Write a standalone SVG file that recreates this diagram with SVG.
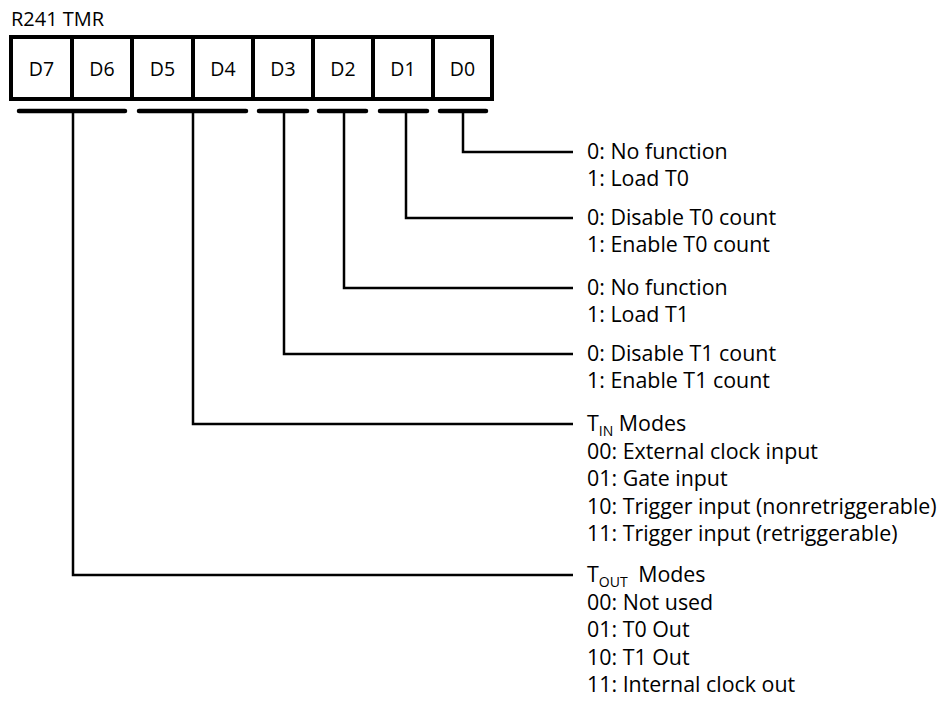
<svg xmlns="http://www.w3.org/2000/svg" width="942" height="702" viewBox="0 0 942 702">
<style>
text{font-family:"Open Sans","Noto Sans","Liberation Sans",sans-serif;fill:#000}
.cell{fill:#fff;stroke:#000;stroke-width:4}
.div{stroke:#000;stroke-width:4}
.lbl{font-size:19.5px;text-anchor:middle}
.desc{font-size:21.4px}
.sub{font-size:14px}
.bar{stroke:#000;stroke-width:4.5;stroke-linecap:round;fill:none}
.wire{stroke:#000;stroke-width:2.5;fill:none}
</style>
<rect width="942" height="702" fill="#fff"/>
<g id="title"><text x="11" y="26" style="font-size:20px">R241 TMR</text></g>
<g id="register">
<rect class="cell" x="11" y="37" width="481" height="62"/>
<g id="bit-D7"><text class="lbl" x="41.5" y="75.5">D7</text></g>
<g id="bit-D6"><line class="div" x1="72" y1="37" x2="72" y2="99"/><text class="lbl" x="102" y="75.5">D6</text></g>
<g id="bit-D5"><line class="div" x1="132" y1="37" x2="132" y2="99"/><text class="lbl" x="162.5" y="75.5">D5</text></g>
<g id="bit-D4"><line class="div" x1="193" y1="37" x2="193" y2="99"/><text class="lbl" x="223" y="75.5">D4</text></g>
<g id="bit-D3"><line class="div" x1="253" y1="37" x2="253" y2="99"/><text class="lbl" x="283" y="75.5">D3</text></g>
<g id="bit-D2"><line class="div" x1="313" y1="37" x2="313" y2="99"/><text class="lbl" x="343" y="75.5">D2</text></g>
<g id="bit-D1"><line class="div" x1="373" y1="37" x2="373" y2="99"/><text class="lbl" x="403" y="75.5">D1</text></g>
<g id="bit-D0"><line class="div" x1="433" y1="37" x2="433" y2="99"/><text class="lbl" x="462.5" y="75.5">D0</text></g>
</g>
<g id="connectors">
<line class="bar" x1="19" y1="111" x2="125" y2="111"/>
<line class="bar" x1="139" y1="111" x2="246" y2="111"/>
<line class="bar" x1="259" y1="111" x2="307" y2="111"/>
<line class="bar" x1="319" y1="111" x2="366" y2="111"/>
<line class="bar" x1="380" y1="111" x2="427" y2="111"/>
<line class="bar" x1="440" y1="111" x2="486" y2="111"/>
<polyline class="wire" points="463,111 463,152 573,152"/>
<polyline class="wire" points="406,111 406,218 573,218"/>
<polyline class="wire" points="344,111 344,288 573,288"/>
<polyline class="wire" points="284,111 284,354 573,354"/>
<polyline class="wire" points="193,111 193,424 573,424"/>
<polyline class="wire" points="73,111 73,575 573,575"/>
</g>
<g id="desc-D0"><text class="desc" x="587" y="159">0: No function</text><text class="desc" x="587" y="186">1: Load T0</text></g>
<g id="desc-D1"><text class="desc" x="587" y="225">0: Disable T0 count</text><text class="desc" x="587" y="252">1: Enable T0 count</text></g>
<g id="desc-D2"><text class="desc" x="587" y="295">0: No function</text><text class="desc" x="587" y="322">1: Load T1</text></g>
<g id="desc-D3"><text class="desc" x="587" y="361">0: Disable T1 count</text><text class="desc" x="587" y="388">1: Enable T1 count</text></g>
<g id="desc-D5D4">
<text class="desc" x="587" y="431">T<tspan class="sub" dy="5">IN</tspan><tspan dy="-5"> Modes</tspan></text>
<text class="desc" x="587" y="458.5">00: External clock input</text>
<text class="desc" x="587" y="486">01: Gate input</text>
<text class="desc" x="587" y="513.5">10: Trigger input (nonretriggerable)</text>
<text class="desc" x="587" y="541">11: Trigger input (retriggerable)</text>
</g>
<g id="desc-D7D6">
<text class="desc" x="587" y="582">T<tspan class="sub" dy="5">OUT</tspan><tspan dy="-5" dx="5"> Modes</tspan></text>
<text class="desc" x="587" y="609.5">00: Not used</text>
<text class="desc" x="587" y="637">01: T0 Out</text>
<text class="desc" x="587" y="664.5">10: T1 Out</text>
<text class="desc" x="587" y="692">11: Internal clock out</text>
</g>
</svg>
